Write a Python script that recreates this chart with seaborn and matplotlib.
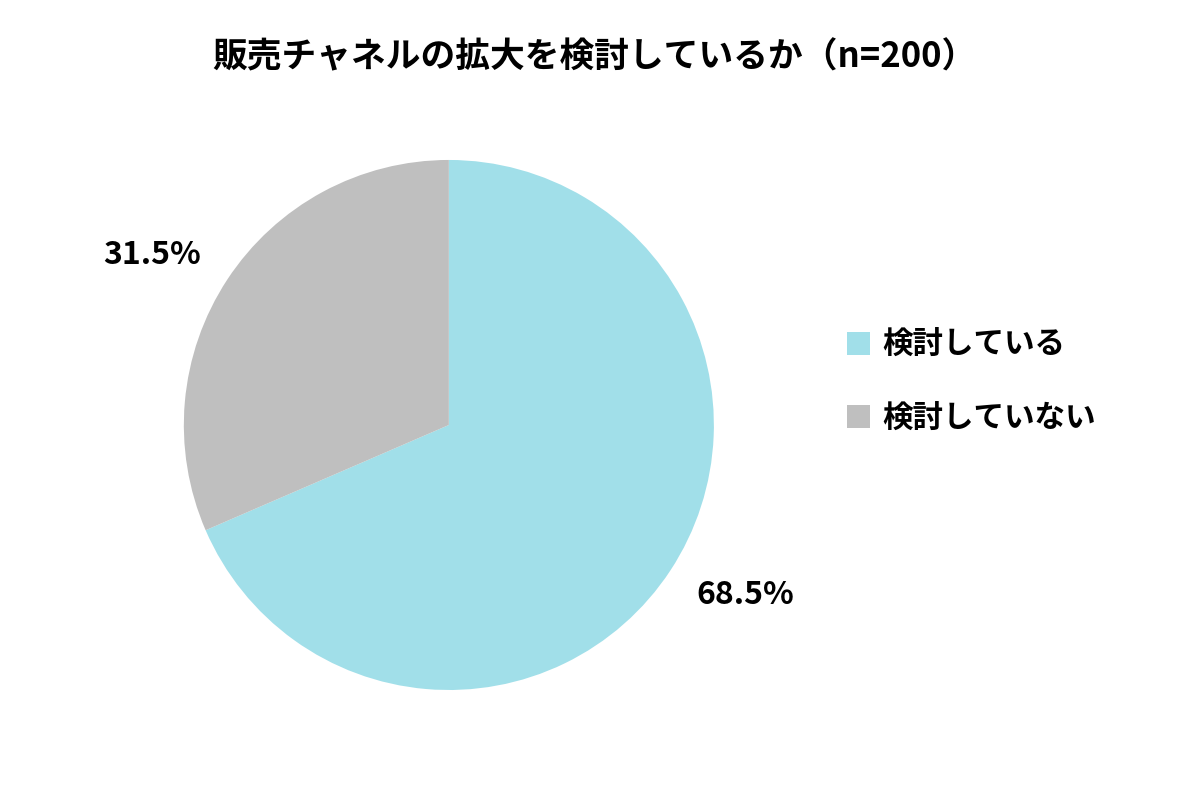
import matplotlib
matplotlib.use("Agg")
from matplotlib import pyplot as plt
import seaborn as sns
import numpy as np

labels = ['検討している', '検討していない']
values = [68.5, 31.5]
colors = ['#A1DFE9', '#BFBFBF']
title = '販売チャネルの拡大を検討しているか（n=200）'

sns.set_theme(style="white")
plt.rcParams['font.family'] = ['Noto Sans CJK JP', 'DejaVu Sans']
plt.rcParams['text.color'] = 'black'

fig = plt.figure(figsize=(12, 7.87), dpi=100)
ax = fig.add_axes([0.374 - 0.2208, 0.46 - 0.3368, 0.4417, 0.6736])

wedges, texts, autotexts = ax.pie(
    values, colors=colors, startangle=90, counterclock=False,
    autopct='%.1f%%', pctdistance=1.3,
    wedgeprops=dict(linewidth=0),
    textprops=dict(fontsize=23, fontweight='bold', color='black'))
ax.set_aspect('equal')
ax.set_xlim(-1, 1)
ax.set_ylim(-1, 1)

# labels sit slightly counter-clockwise of the slice middle
for w, t in zip(wedges, autotexts):
    ang = np.deg2rad((w.theta1 + w.theta2) / 2 + 3.5)
    t.set_position((1.29 * np.cos(ang), 1.29 * np.sin(ang)))

fig.text(0.495, 0.928, title, ha='center', va='center',
         fontsize=25, fontweight='bold', color='black')

fig.legend(wedges, labels, loc='center left', bbox_to_anchor=(0.683, 0.515),
           frameon=False, handlelength=0.75, handleheight=0.75,
           labelspacing=1.35, handletextpad=0.4, labelcolor='black',
           prop=dict(size=22, weight='bold'))

fig.savefig('out.png', dpi=100, facecolor='white')
